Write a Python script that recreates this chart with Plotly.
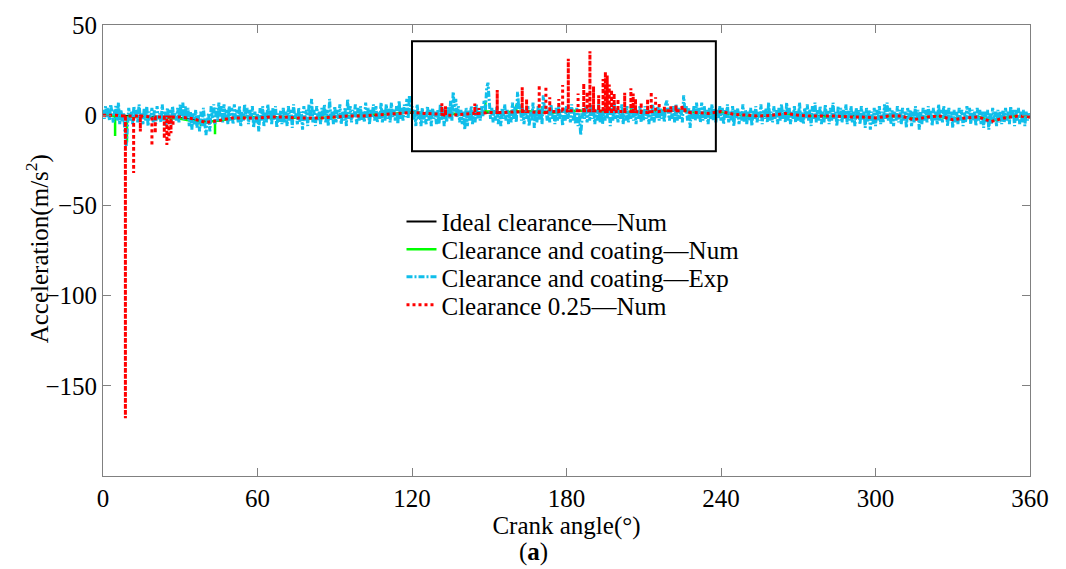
import plotly.graph_objects as go

# ---------------- data ----------------
grid5 = list(range(0, 361, 5))  # crank angle grid for numerical curves (deg)

ideal_num = [0.5, 0, -0.5, -1, -1, -1.5, -1.5, -2.5, -3.5, -3, -1.5, -1, -1, -1, -1,
             -1.5, -1.5, -1.5, -1, -0.5, 0, 0, 0.5, 1, 1.5, 1, 0.5, 0.5, 0.5, 1,
             1.5, 1.5, 1.5, 2, 1.5, 1.5, 2, 2.5, 2, 2, 2, 1.5, 1.5, 2, 2.5,
             2.5, 1.5, 1, 1.5, 0.5, -0.5, -0.5, 0, 0.5, 0, -0.5, -0.5, -0.5, -0.5, -1,
             -1.5, -0.5, -0.5, -2, -1, -0.5, -2, -1.5, -1, -3, -1.5, -0.5, -1]

coat_num_base = [0.5, -0.5, -1, -1, -1.5, -1.5, -2, -3, -4, -3, -2, -1, -1, -1.5, -1,
                 -1.5, -2, -1.5, -1, -0.5, 0, 0.5, 0.5, 1, 2, 1, 0.5, 1, 0.5, 1.5,
                 2, 1.5, 2, 2, 2, 1.5, 2.5, 2.5, 2, 2.5, 2, 1.5, 2, 2, 3,
                 2.5, 1.5, 1, 1.5, 0.5, -0.5, 0, 0, 0.5, -0.5, -0.5, -1, -0.5, -1, -1,
                 -1.5, -0.5, -1, -2, -1, -1, -2, -1.5, -1, -3, -1.5, -0.5, -1]
coat_spike_deg = [4.7, 9.3, 38.0, 43.5, 148.5, 160.5, 170.5, 196.0, 205.0]
coat_spike_val = [-11.5, -15, -6, -10.5, 8, 6, 5, 5, 4]

clr_base = [0, 0, -0.5, -0.5, -1, -1, -1, -2, -4, -3, -1.5, -1.5, -1.5, -1, -1,
            -1.5, -1.5, -1.5, -1, -0.5, -0.5, 0, 0.5, 1, 1.5, 1, 0.5, 0, 0.5, 1,
            1.5, 1.5, 2, 2, 1.5, 2, 2.5, 2.5, 2.5, 2, 2, 2, 1.5, 2, 2.5,
            2.5, 1.5, 1, 2, 0.5, 0, -0.5, 0, 1, 0, -0.5, -0.5, -0.5, -1, -1,
            -1.5, -0.5, -0.5, -2.5, -1, -0.5, -2.5, -1.5, -1, -3.5, -1.5, -0.5, -1]
clr_spike_deg = [8.7, 11.9, 14.5, 19.0, 20.3, 23.8, 24.8, 25.6, 26.4, 27.2,
                 131.6, 133.0, 144.4, 146.0, 153.1, 162.8, 164.5, 169.4, 172.0, 173.5,
                 177.0, 178.5, 180.7, 184.5, 186.7, 188.0, 189.1, 190.5, 192.5, 194.2,
                 195.1, 195.8, 196.6, 197.5, 198.5, 200.0, 202.6, 205.0, 205.9, 206.8,
                 209.0, 211.5, 212.9, 214.6, 216.0, 218.0, 220.5, 222.5, 224.8, 226.0, 228.0]
clr_spike_val = [-168, -32, -9, -17, -10, -13, -16.5, -14, -10, -6,
                 6.6, 5, 6.5, 4, 14, 15.5, 9, 16.7, 16, 10,
                 9, 16.7, 31.3, 12, 17.6, 13, 35.5, 16, 11, 20,
                 24, 22, 17, 14, 12, 9, 12.5, 15, 12, 9,
                 7, 9, 13, 10, 7, 5, 5, 5.5, 5.7, 4.5, 3]

# Experimental (clearance and coating), sampled every 0.5 deg
coat_exp = [
    3, -2, 5, -1, 4, -3, 6, 0, -4, 2, 5, -3, 7, -5, 3, -4, 1, -9, -17, -6,          # 0-10
    4, -3, 2, -5, 5, -1, 3, -4, 6, -2, 1, -5, 4, -3, 5, -6, 2, -2, 4, -4,           # 10-20
    3, -5, 5, -2, 1, -4, 6, -3, 2, -6, 4, -1, 3, -5, 5, -2, 1, -3, 4, -4,           # 20-30
    6, -1, 7, -3, 5, -2, 4, -6, 2, -8, 1, -5, 3, -7, 0, -9, 2, -6, 4, -4,           # 30-40
    -11, -3, 1, -9, 5, -2, 6, -5, 4, -3, 7, -1, 5, -4, 6, -2, 3, -5, 5, -3,         # 40-50
    4, -5, 6, -2, 3, -4, 5, -6, 2, -3, 6, -1, 4, -5, 3, -3, 5, -7, 2, -4,           # 50-60
    1, -9, 4, -3, 5, -6, 2, -4, 6, -2, 3, -5, 4, -3, 5, -7, 1, -4, 3, -5,           # 60-70
    4, -4, 2, -6, 5, -3, 3, -7, 6, -2, 1, -5, 4, -4, 2, -8, 5, -3, 3, -6,           # 70-80
    6, -2, 9, -4, 3, -6, 5, -3, 2, -5, 4, -1, 6, -4, 3, -6, 9, -3, 2, -5,           # 80-90
    5, -4, 3, -2, 6, -5, 2, -3, 4, -6, 9, -2, 5, -4, 3, -1, 6, -5, 4, -3,           # 90-100
    5, -3, 2, -4, 7, -2, 4, -5, 3, -1, 6, -3, 5, -4, 2, -2, 7, -4, 3, -3,           # 100-110
    6, -2, 4, -4, 7, -1, 3, -3, 5, -5, 8, -2, 4, -3, 6, -1, 9, -2, 11, 2,           # 110-120
    5, -3, 3, -6, 6, -2, 2, -6, 4, -4, 1, -5, 5, -3, 3, -6, 4, -2, 2, -5,           # 120-130
    3, -5, 6, -3, 4, -6, 2, -4, 5, -2, 8, -3, 13, 2, 9, -1, 5, -4, 3, -5,           # 130-140
    2, -8, 4, -6, 3, -3, 5, -5, 2, -4, 6, -2, 4, -3, 5, -1, 8, 3, 15, 18,           # 140-150
    10, -2, 4, -4, 3, -3, 5, -5, 2, -6, 4, -2, 6, -3, 3, -5, 2, -4, 7, -2,          # 150-160
    5, -4, 13, 3, 6, -3, 4, -5, 3, -2, 5, -6, 2, -3, 7, -7, 3, -4, 5, -3,           # 160-170
    4, -5, 11, 2, 5, -3, 3, -4, 6, -2, 2, -5, 4, -3, 5, -2, 3, -6, 4, -3,           # 170-180
    5, -2, 3, -4, 6, -3, 2, -5, 4, -6, 1, -11, -3, 4, -2, 5, -4, 3, -3, 6,          # 180-190
    -2, 4, -5, 3, -3, 6, -4, 2, -5, 4, -3, 5, -2, 3, -6, 4, -3, 7, -2, 4,           # 190-200
    -4, 3, -2, 6, -5, 3, -3, 5, -4, 2, -2, 6, -3, 4, -5, 3, -2, 5, -4, 3,           # 200-210
    -3, 5, -2, 4, -5, 3, -3, 6, -4, 2, -2, 5, -3, 4, -2, 3, -4, 6, 8, 2,            # 210-220
    -3, 4, -2, 5, -4, 6, -3, 4, -2, 3, -4, 11, 2, 5, -3, 4, -7, 3, -2, 5,           # 220-230
    -3, 7, -2, 4, -4, 7, -3, 5, -2, 3, -5, 4, -2, 6, -3, 4, -4, 3, -2, 5,           # 230-240
    -3, 4, -5, 3, -2, 6, -4, 2, -3, 5, -6, 3, -2, 4, -5, 2, -3, 6, -4, 3,           # 240-250
    -5, 2, -3, 4, -6, 3, -2, 5, -4, 2, -3, 6, -5, 3, -2, 4, -4, 7, -3, 2,           # 250-260
    -4, 5, -2, 3, -5, 4, -3, 6, -2, 3, -4, 7, -3, 4, -5, 2, -2, 5, -4, 3,           # 260-270
    -3, 7, -4, 2, -5, 4, -2, 6, -3, 3, -6, 5, -2, 7, -4, 3, -3, 5, -5, 2,           # 270-280
    -4, 6, -2, 3, -5, 4, -3, 7, -2, 2, -6, 5, -3, 4, -4, 3, -2, 6, -5, 3,           # 280-290
    -3, 5, -4, 2, -6, 4, -2, 3, -5, 5, -3, 2, -7, 4, -4, 3, -8, 2, -5, 4,           # 290-300
    -6, 3, -3, 5, -5, 2, -4, 6, -2, 7, -3, 4, -5, 3, -6, 2, -3, 5, -4, 3,           # 300-310
    -5, 4, -3, 2, -7, 4, -2, 3, -6, 2, -4, 5, -3, 3, -8, 2, -5, 4, -3, 3,           # 310-320
    -4, 5, -2, 3, -6, 4, -3, 2, -5, 6, -3, 3, -4, 5, -2, 3, -6, 4, -3, 2,           # 320-330
    -7, 3, -4, 2, -5, 4, -3, 3, -6, 2, -4, 5, -2, 4, -5, 3, -3, 2, -6, 4,           # 330-340
    -3, 3, -5, 2, -7, 2, -4, 3, -8, 1, -5, 4, -3, 2, -6, 3, -4, 2, -5, 3,           # 340-350
    -4, 4, -3, 2, -5, 5, -2, 3, -6, 3, -3, 4, -5, 2, -4, 3, -6, 2, -3, 1,           # 350-360
    -2,
]
exp_angle = [i * 0.5 for i in range(len(coat_exp))]

x_ticks = [0, 60, 120, 180, 240, 300, 360]
y_ticks = [-150, -100, -50, 0, 50]

# box highlighting the zoomed region
box_x = [120, 238]
box_y = [-20, 41]


def with_spikes(grid, base, sdeg, sval):
    """Merge a grid curve with vertical spikes (foot taken from nearest grid value)."""
    events = [(g, 0, b, None) for g, b in zip(grid, base)]
    for a, v in zip(sdeg, sval):
        i = min(range(len(grid)), key=lambda k: abs(grid[k] - a))
        events.append((a, 1, base[i], v))
    events.sort(key=lambda e: (e[0], e[1]))
    xs, ys = [], []
    for a, kind, f, v in events:
        if kind == 0:
            xs.append(a); ys.append(f)
        else:
            xs += [a, a, a]; ys += [f, v, f]
    return xs, ys


coat_x, coat_y = with_spikes(grid5, coat_num_base, coat_spike_deg, coat_spike_val)
clr_x, clr_y = with_spikes(grid5, clr_base, clr_spike_deg, clr_spike_val)

FONT = "Liberation Serif"
FS = 25

fig = go.Figure()
fig.add_trace(go.Scatter(x=grid5, y=ideal_num, mode="lines", name="Ideal clearance\u2014Num",
                         line=dict(color="black", width=2), legend="legend"))
fig.add_trace(go.Scatter(x=coat_x, y=coat_y, mode="lines", name="Clearance and coating\u2014Num",
                         line=dict(color="#00FF00", width=2.5), legend="legend2"))
fig.add_trace(go.Scatter(x=exp_angle, y=coat_exp, mode="lines", name="Clearance and coating\u2014Exp",
                         line=dict(color="#10BEEA", width=3, dash="6px,2px,2px,2px"), legend="legend3"))
fig.add_trace(go.Scatter(x=clr_x, y=clr_y, mode="lines", name="Clearance 0.25\u2014Num",
                         line=dict(color="#FF0000", width=3, dash="3px,3px"), legend="legend4"))

fig.add_shape(type="rect", xref="x", yref="y", x0=box_x[0], x1=box_x[1], y0=box_y[0], y1=box_y[1],
              line=dict(color="black", width=2), layer="above")

axis_common = dict(showline=True, linecolor="#808080", linewidth=1, mirror="ticks",
                   ticks="inside", ticklen=8, tickcolor="#808080", showgrid=False,
                   zeroline=False, tickfont=dict(family=FONT, size=FS, color="black"))

fig.update_xaxes(range=[0, 360], tickvals=x_ticks, ticktext=[str(v) for v in x_ticks],
                 title=dict(text="Crank angle(\u00b0)", font=dict(family=FONT, size=FS, color="black"),
                            standoff=4),
                 **axis_common)
fig.update_yaxes(range=[-200, 50], tickvals=y_ticks,
                 ticktext=["\u2212150", "\u2212100", "\u221250", "0", "50"],
                 **axis_common)

# y-axis title (rotated text placed close to the tick labels)
fig.add_annotation(text="Acceleration(m/s<sup>2</sup>)", xref="paper", yref="paper",
                   x=-0.071, y=0.503, xanchor="center", yanchor="middle", textangle=-90,
                   showarrow=False, font=dict(family=FONT, size=FS, color="black"))

fig.add_annotation(text="(<b>a</b>)", xref="paper", yref="paper", x=0.464, y=-0.168,
                   xanchor="center", yanchor="middle",
                   showarrow=False, font=dict(family=FONT, size=FS, color="black"))

leg_common = dict(x=0.322, xanchor="left", yanchor="middle", bgcolor="rgba(0,0,0,0)",
                  borderwidth=0, font=dict(family=FONT, size=25, color="black"), itemwidth=30)

fig.update_layout(
    width=1066, height=569,
    margin=dict(l=103, r=36, t=21, b=93),
    paper_bgcolor="white", plot_bgcolor="white",
    showlegend=True,
    legend=dict(y=0.564, **leg_common),
    legend2=dict(y=0.502, **leg_common),
    legend3=dict(y=0.441, **leg_common),
    legend4=dict(y=0.379, **leg_common),
)

fig.write_html("out.html")
